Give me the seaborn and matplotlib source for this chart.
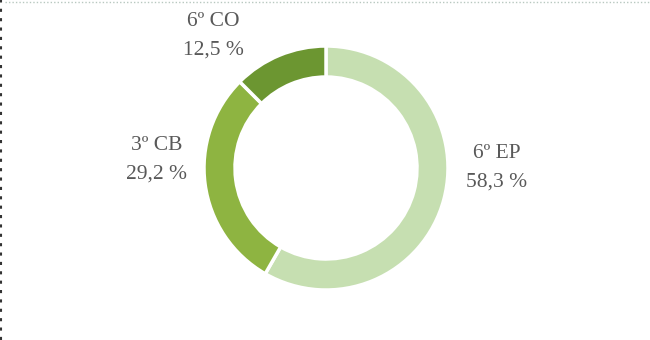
import matplotlib
matplotlib.use("Agg")
import matplotlib.pyplot as plt
import seaborn as sns
from matplotlib.lines import Line2D

sns.set_style("white")
plt.rcParams['font.family'] = ['Liberation Serif', 'DejaVu Serif']

# share of each group, clockwise from 12 o'clock
categories = ["6º EP", "3º CB", "6º CO"]
shares = [58.3, 29.2, 12.5]
share_labels = ["58,3 %", "29,2 %", "12,5 %"]
colors = ["#c6dfb1", "#8eb441", "#6c9631"]

# label anchor points (pixels, top-left origin)
label_pos = [(497, 168), (157, 160), (213, 36)]

fig = plt.figure(figsize=(6.5, 3.4), dpi=100)
ax = fig.add_axes([0, 0, 1, 1])

ax.pie(shares, colors=colors, startangle=90, counterclock=False,
       center=(326, 172), radius=122, frame=True,
       wedgeprops=dict(width=31, edgecolor='white', linewidth=2.5))
ax.set_xlim(0, 650)
ax.set_ylim(0, 340)
ax.set_aspect('equal')
ax.axis('off')

for cat, lab, (x, y) in zip(categories, share_labels, label_pos):
    ax.text(x, 340 - y + 14, cat, ha='center', va='center', fontsize=15.5, color='#595959')
    ax.text(x, 340 - y - 14, lab, ha='center', va='center', fontsize=15.5, color='#595959')

# dotted frame lines at the top and left edge
fig.add_artist(Line2D([0.008, 1], [0.993, 0.993], transform=fig.transFigure,
                      color='#b8c8c0', linestyle=(0, (1, 1.5)), linewidth=1))
fig.add_artist(Line2D([0.002, 0.002], [0, 1], transform=fig.transFigure,
                      color='#333333', linestyle=(0, (1.5, 3)), linewidth=1.5))

fig.savefig("out.png", dpi=100)
